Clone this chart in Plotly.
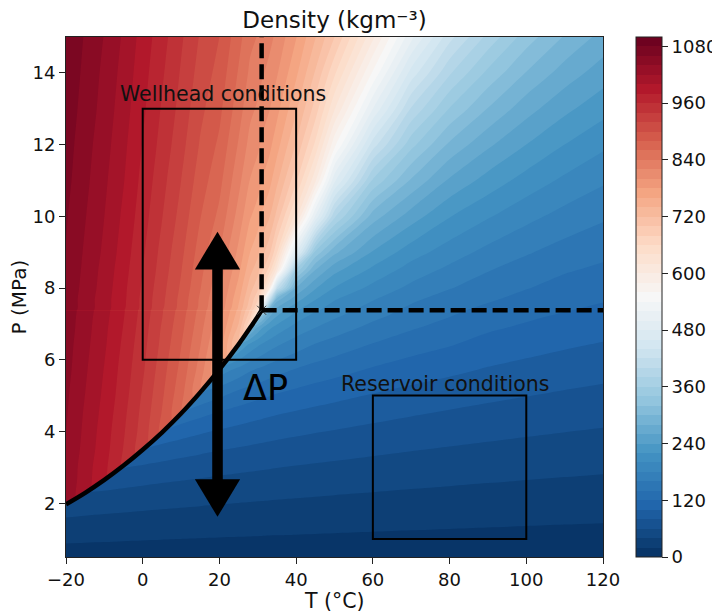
import plotly.graph_objects as go

# ---------------- data (CO2 density, kg/m^3) ----------------
T_C = [-20, -15, -10, -5, 0, 5, 10, 15, 20, 25, 28, 30, 31, 33, 35, 40, 45, 50,
       60, 70, 80, 90, 100, 110, 120]
P_MPa = [0.5, 1.0, 1.5, 1.97, 2.29, 2.65, 3.05, 3.49, 3.97, 4.50, 5.09, 5.73, 6.43,
         6.89, 7.21, 7.38, 7.7, 8.0, 8.5, 9.0, 10, 11, 12, 13, 14, 15]

# saturation (boiling) curve, ends at the critical point
T_sat = [-20, -15, -10, -5, 0, 5, 10, 15, 20, 25, 28, 30, 31]
P_sat = [1.97, 2.29, 2.65, 3.05, 3.49, 3.97, 4.50, 5.09, 5.73, 6.43, 6.89, 7.21, 7.38]
T_crit, P_crit = 31.0, 7.38

N = None
# gas + supercritical field on the T_C x P_MPa grid (None = liquid side of the curve)
rho_gas_sc = [
    [10.9, 10.7, 10.5, 10.2, 10.0, 9.8, 9.6, 9.5, 9.3, 9.1, 9.0, 9.0, 8.9, 8.8, 8.8, 8.6, 8.5, 8.4, 8.1, 7.8, 7.6, 7.4, 7.2, 7.0, 6.8],
    [23.0, 22.4, 21.9, 21.3, 20.8, 20.4, 19.9, 19.5, 19.1, 18.7, 18.5, 18.4, 18.3, 18.1, 18.0, 17.7, 17.4, 17.1, 16.5, 15.9, 15.4, 15.0, 14.5, 14.1, 13.7],
    [36.6, 35.5, 34.4, 33.5, 32.6, 31.8, 31.0, 30.3, 29.6, 28.9, 28.6, 28.3, 28.2, 27.9, 27.7, 27.2, 26.6, 26.1, 25.2, 24.3, 23.5, 22.7, 22.1, 21.4, 20.8],
    [52, 49.5, 47.7, 46.1, 44.8, 43.5, 42.3, 41.2, 40.1, 39.1, 38.6, 38.2, 38.0, 37.7, 37.3, 36.5, 35.7, 35.0, 33.7, 32.4, 31.3, 30.3, 29.3, 28.4, 27.6],
    [N, 60, 57.9, 55.7, 53.9, 52.1, 50.6, 49.1, 47.8, 46.5, 45.8, 45.3, 45.1, 44.6, 44.2, 43.2, 42.2, 41.3, 39.7, 38.1, 36.8, 35.5, 34.3, 33.2, 32.3],
    [N, N, 71, 67.6, 65.1, 62.6, 60.6, 58.6, 56.8, 55.2, 54.3, 53.7, 53.4, 52.8, 52.2, 51.0, 49.8, 48.7, 46.6, 44.7, 43.0, 41.5, 40.1, 38.8, 37.6],
    [N, N, N, 83, 79.2, 75.7, 72.7, 70.1, 67.7, 65.5, 64.3, 63.5, 63.1, 62.4, 61.6, 60.0, 58.5, 57.2, 54.6, 52.2, 50.2, 48.3, 46.6, 45.0, 43.6],
    [N, N, N, N, 98, 92.2, 87.9, 84.1, 80.7, 77.8, 76.2, 75.1, 74.6, 73.6, 72.7, 70.6, 68.6, 66.9, 63.7, 60.8, 58.3, 56.0, 53.9, 52.1, 50.4],
    [N, N, N, N, N, 115, 107.5, 101.7, 96.7, 92.6, 90.3, 88.9, 88.2, 86.9, 85.6, 82.9, 80.3, 78.2, 74.1, 70.5, 67.4, 64.6, 62.1, 59.9, 57.9],
    [N, N, N, N, N, N, 135, 125.5, 117.4, 111.1, 107.8, 105.8, 104.9, 103.0, 101.2, 97.5, 94.2, 91.4, 86.2, 81.7, 77.8, 74.4, 71.4, 68.7, 66.3],
    [N, N, N, N, N, N, N, 161, 148, 136, 131, 128, 126.5, 124, 121, 116, 111.5, 107.7, 100.8, 95, 90.2, 85.7, 82.1, 78.8, 75.9],
    [N, N, N, N, N, N, N, N, 194, 174, 163, 158, 156, 151, 147, 139, 132.5, 127.5, 118, 110.5, 104.5, 98.5, 94.0, 90.1, 86.7],
    [N, N, N, N, N, N, N, N, N, 243, 216, 204, 199, 190, 183, 170, 159, 152, 139, 129, 121.5, 113, 107.6, 102.7, 98.7],
    [N, N, N, N, N, N, N, N, N, N, 290, 255, 242, 224, 212, 192, 180, 170, 154, 142, 132.5, 123, 116.8, 111.3, 106.7],
    [N, N, N, N, N, N, N, N, N, N, N, 336, 310, 262, 240, 210, 193, 183, 165, 151, 140.5, 130, 123.3, 117.4, 112.4],
    [1053, 1030, 1008, 982, 953, 922, 891, 853, 813, 754, 698, 642, 468, 282, 252, 222, 203, 190, 170, 155, 144, 135, 128, 121, 116],
    [1054, 1031, 1009, 984, 955, 925, 894, 857, 819, 765, 716, 684, 630, 440, 290, 250, 222, 202, 182, 164, 152, 143, 134, 127, 122],
    [1055, 1033, 1011, 985, 957, 927, 897, 861, 824, 773, 729, 704, 672, 600, 419, 278, 242, 219, 194, 175, 161, 150, 141, 133, 127],
    [1057, 1035, 1013, 988, 960, 931, 901, 866, 832, 785, 746, 728, 706, 672, 610, 354, 280, 246, 215, 191, 175, 161, 151, 142, 136],
    [1059, 1037, 1016, 991, 963, 934, 905, 871, 840, 795, 760, 745, 728, 706, 662, 486, 335, 285, 238, 209, 190, 174, 162, 152, 145],
    [1062, 1041, 1020, 996, 969, 941, 913, 881, 855, 812, 782, 770, 758, 742, 713, 629, 498, 384, 290, 250, 221, 202, 186, 173, 163],
    [1066, 1045, 1024, 1001, 974, 947, 920, 890, 866, 826, 799, 789, 780, 767, 745, 684, 604, 485, 357, 297, 257, 232, 212, 196, 183],
    [1069, 1048, 1028, 1005, 979, 953, 927, 898, 876, 838, 813, 804, 797, 786, 768, 718, 656, 566, 430, 347, 296, 264, 240, 220, 204],
    [1072, 1052, 1032, 1009, 984, 958, 933, 905, 885, 849, 825, 817, 811, 801, 786, 743, 691, 622, 500, 398, 339, 299, 268, 245, 227],
    [1075, 1055, 1035, 1013, 988, 963, 938, 912, 893, 858, 836, 829, 823, 814, 802, 764, 718, 664, 557, 452, 383, 335, 299, 271, 250],
    [1078, 1058, 1039, 1017, 992, 968, 943, 918, 900, 867, 845, 839, 834, 826, 815, 781, 741, 700, 604, 505, 427, 374, 330, 298, 273],
]

# liquid field below the critical pressure on the T_sat x P_sat grid
rho_liquid = [
    [1032, N, N, N, N, N, N, N, N, N, N, N, N],
    [1033, 1007, N, N, N, N, N, N, N, N, N, N, N],
    [1035, 1009, 983, N, N, N, N, N, N, N, N, N, N],
    [1036, 1010, 985, 956, N, N, N, N, N, N, N, N, N],
    [1038, 1013, 988, 959, 927, N, N, N, N, N, N, N, N],
    [1040, 1015, 990, 962, 931, 894, N, N, N, N, N, N, N],
    [1042, 1017, 993, 965, 934, 899, 861, N, N, N, N, N, N],
    [1044, 1020, 996, 969, 938, 904, 867, 821, N, N, N, N, N],
    [1047, 1023, 999, 972, 943, 909, 874, 831, 773, N, N, N, N],
    [1049, 1026, 1003, 976, 947, 915, 881, 841, 793, 711, N, N, N],
    [1051, 1028, 1005, 979, 950, 918, 886, 847, 803, 735, 653, N, N],
    [1052, 1029, 1007, 981, 952, 921, 889, 851, 810, 748, 686, 594, N],
    [1053, 1030, 1008, 982, 953, 922, 891, 853, 813, 754, 698, 642, 468],
]

cbar_ticks = list(range(0, 1081, 120))
x_ticks = list(range(-20, 121, 20))
y_ticks = list(range(2, 15, 2))

wellhead_box = dict(T=(0, 40), P=(6, 13))
reservoir_box = dict(T=(60, 100), P=(1, 5))
arrow_T, arrow_P_low, arrow_P_high = 19.5, 1.62, 9.57

# ---------------- colour map (RdBu reversed) ----------------
RDBU_R = [(5, 48, 97), (33, 102, 172), (67, 147, 195), (146, 197, 222), (209, 229, 240),
          (247, 247, 247), (253, 219, 199), (244, 165, 130), (214, 96, 77), (178, 24, 43),
          (103, 0, 31)]


def cmap(t):
    t = min(max(t, 0.0), 1.0) * 10
    i = min(int(t), 9)
    f = t - i
    a, b = RDBU_R[i], RDBU_R[i + 1]
    return 'rgb(%d,%d,%d)' % tuple(round(a[k] + (b[k] - a[k]) * f) for k in range(3))


LEV0, LEV1, DLEV = 0, 1100, 20
NB = (LEV1 - LEV0) // DLEV
SPAN = (NB + 1) * DLEV
cs_contour = [[0, cmap(0)]]
for k in range(NB):
    v = LEV0 + DLEV * (k + 0.5)
    cs_contour.append([(v - (LEV0 - DLEV / 2)) / SPAN, cmap((v - LEV0) / (LEV1 - LEV0))])
cs_contour.append([1, cmap(1)])

cs_bar = []
for k in range(NB):
    c = cmap(DLEV * (k + 0.5) / (LEV1 - LEV0))
    cs_bar += [[k / NB, c], [(k + 1) / NB, c]]

contours = dict(start=LEV0, end=LEV1, size=DLEV, coloring='fill', showlines=False)

# page body has an 8 px margin: lay the figure out 8 px up/left of the target pixels
OFF = 8
W, H = 720 - OFF, 614 - OFF
PX_L, PX_R, PX_T, PX_B = 66, 603, 37, 557  # plot-area edges in window pixels

FONT = 'DejaVu Sans'
fig = go.Figure()

fig.add_trace(go.Contour(x=T_C, y=P_MPa, z=rho_gas_sc, autocontour=False, contours=contours,
                         colorscale=cs_contour, showscale=False, line=dict(width=0, smoothing=0.9),
                         hoverinfo='skip'))
fig.add_trace(go.Contour(x=T_sat, y=P_sat, z=rho_liquid, autocontour=False, contours=contours,
                         colorscale=cs_contour, showscale=False, line=dict(width=0, smoothing=0.9),
                         hoverinfo='skip'))

# saturation curve
fig.add_trace(go.Scatter(x=T_sat, y=P_sat, mode='lines', line=dict(color='black', width=4.5, shape='spline'),
                         hoverinfo='skip', showlegend=False))
# critical point marker
fig.add_trace(go.Scatter(x=[T_crit], y=[P_crit], mode='markers',
                         marker=dict(symbol='x-thin', size=9, line=dict(width=1, color='#333')),
                         hoverinfo='skip', showlegend=False))

plot_w = PX_R - PX_L
plot_h = PX_B - PX_T
# colour bar carrier (point sits outside the axes)
fig.add_trace(go.Scatter(x=[T_C[0] - 100], y=[P_MPa[0] - 100], mode='markers', showlegend=False,
                         hoverinfo='skip',
                         marker=dict(size=1, color=[0], colorscale=cs_bar, cmin=LEV0, cmax=LEV1,
                                     showscale=True,
                                     colorbar=dict(thickness=26, len=1, lenmode='fraction', y=0.5,
                                                   yanchor='middle', x=(636 - PX_L) / plot_w, xanchor='left',
                                                   xpad=0, ypad=0, outlinewidth=1, outlinecolor='#222',
                                                   tickmode='array', tickvals=cbar_ticks, ticks='outside',
                                                   ticklen=6, tickcolor='#222',
                                                   tickfont=dict(family=FONT, size=18, color='#111')))))

shapes = []
for box in (wellhead_box, reservoir_box):
    shapes.append(dict(type='rect', xref='x', yref='y', x0=box['T'][0], x1=box['T'][1],
                       y0=box['P'][0], y1=box['P'][1], line=dict(color='black', width=2)))
shapes.append(dict(type='line', xref='x', yref='y', x0=T_crit, x1=T_crit, y0=P_crit, y1=P_MPa[-1],
                   line=dict(color='black', width=4.5, dash='15px,6px')))
shapes.append(dict(type='line', xref='x', yref='y', x0=T_crit, x1=T_C[-1], y0=P_crit, y1=P_crit,
                   line=dict(color='black', width=4.5, dash='15px,6px')))

# double-headed arrow
hl, hw, sw = 1.05, 5.9, 1.38
shapes.append(dict(type='path', xref='x', yref='y', fillcolor='black', line=dict(width=0),
                   path='M %f %f L %f %f L %f %f Z' % (arrow_T - hw, arrow_P_high - hl, arrow_T, arrow_P_high,
                                                      arrow_T + hw, arrow_P_high - hl)))
shapes.append(dict(type='path', xref='x', yref='y', fillcolor='black', line=dict(width=0),
                   path='M %f %f L %f %f L %f %f Z' % (arrow_T - hw, arrow_P_low + hl, arrow_T, arrow_P_low,
                                                      arrow_T + hw, arrow_P_low + hl)))
shapes.append(dict(type='rect', xref='x', yref='y', fillcolor='black', line=dict(width=0),
                   x0=arrow_T - sw, x1=arrow_T + sw, y0=arrow_P_low + hl - 0.02, y1=arrow_P_high - hl + 0.02))

annotations = [
    dict(text='Wellhead conditions', x=20.8, y=13.4, xref='x', yref='y', showarrow=False,
         xanchor='center', yanchor='middle', font=dict(family=FONT, size=20.5, color='#111')),
    dict(text='Reservoir conditions', x=78.9, y=5.33, xref='x', yref='y', showarrow=False,
         xanchor='center', yanchor='middle', font=dict(family=FONT, size=20.5, color='#111')),
    dict(text='ΔP', x=31.9, y=5.2, xref='x', yref='y', showarrow=False,
         xanchor='center', yanchor='middle', font=dict(family=FONT, size=35, color='black')),
    dict(text='T (°C)', x=0.5, y=-(601 - PX_B) / plot_h, xref='paper', yref='paper', showarrow=False,
         xanchor='center', yanchor='middle', font=dict(family=FONT, size=20.5, color='#111')),
    dict(text='P (MPa)', x=-(PX_L - 18.5) / plot_w, y=0.5, xref='paper', yref='paper', showarrow=False,
         textangle=-90, xanchor='center', yanchor='middle', font=dict(family=FONT, size=20, color='#111')),
]

axis_common = dict(showline=True, mirror=True, linecolor='#222', linewidth=1, ticks='outside',
                   ticklen=6, tickcolor='#222', showgrid=False, zeroline=False,
                   tickfont=dict(family=FONT, size=18, color='#111'))

TITLE_SIZE = 23
title_mid_px = 27.8 - 0.35 * TITLE_SIZE  # baseline near 28 px in the window

fig.update_layout(
    width=W, height=H,
    margin=dict(l=PX_L - OFF, r=W - (PX_R - OFF), t=PX_T - OFF, b=H - (PX_B - OFF), autoexpand=False),
    paper_bgcolor='white', plot_bgcolor='white',
    font=dict(family=FONT, color='#111'),
    title=dict(text='Density (kgm⁻³)', x=0.5, xref='paper', xanchor='center',
               y=1 - (title_mid_px - OFF) / H, yref='container', yanchor='middle',
               font=dict(family=FONT, size=TITLE_SIZE, color='#111')),
    xaxis=dict(range=[T_C[0], T_C[-1]], tickvals=x_ticks, **axis_common),
    yaxis=dict(range=[P_MPa[0], P_MPa[-1]], tickvals=y_ticks, **axis_common),
    shapes=shapes, annotations=annotations, showlegend=False,
)

fig.write_html('out.html')
